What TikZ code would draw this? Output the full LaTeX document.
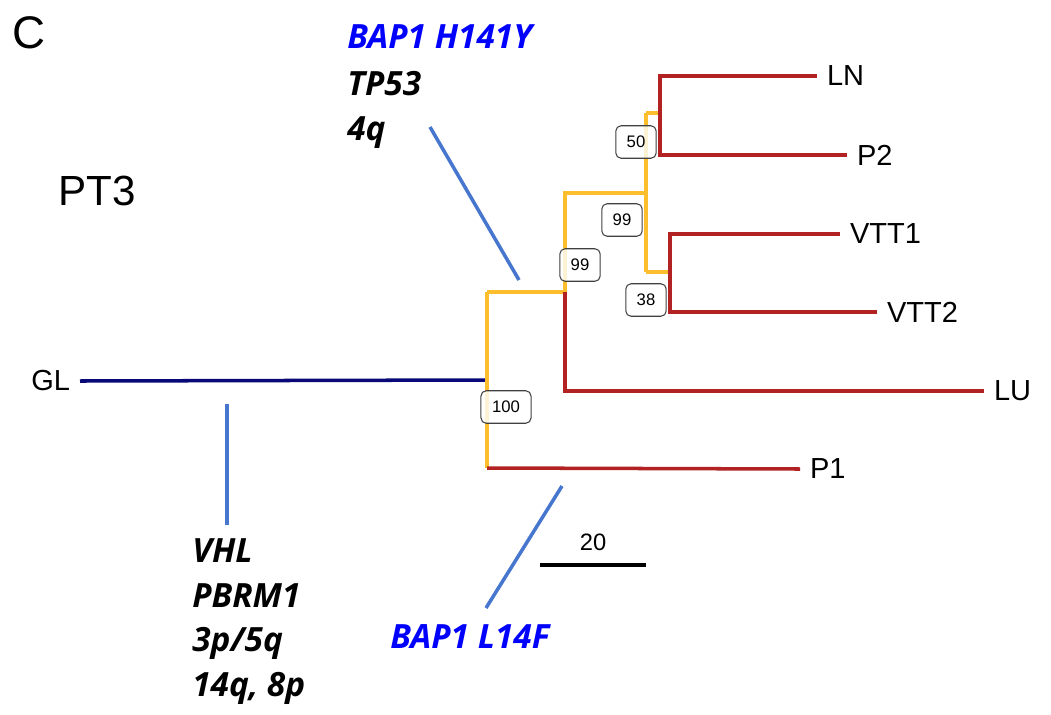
\documentclass[tikz,border=0pt]{standalone}
\usepackage{fontspec}
\setmainfont{Liberation Sans}
\newfontfamily\genefont{Open Sans}
\usepackage{tikz}
\usetikzlibrary{positioning}
\definecolor{trunkblue}{RGB}{8,8,120}
\definecolor{sharedgold}{RGB}{252,190,45}
\definecolor{privatered}{RGB}{178,34,34}
\definecolor{eventblue}{RGB}{70,118,205}
\definecolor{driverblue}{RGB}{0,0,255}
\tikzset{
    trunk branch/.style={draw=trunkblue, line width=2pt},
    shared branch/.style={draw=sharedgold, line width=2pt},
    private branch/.style={draw=privatered, line width=2pt},
    event line/.style={draw=eventblue, line width=2pt},
    scale bar/.style={draw=black, line width=2pt},
    leaf/.style={anchor=west, inner xsep=5.5pt, inner ysep=0pt,
        font=\fontsize{16.5}{19}\selectfont},
    boot/.style={draw=black!75, rounded corners=3pt, fill=white,
        fill opacity=0.8, text opacity=1, line width=0.6pt,
        minimum width=23pt, minimum height=18.5pt, inner sep=1pt,
        font=\fontsize{9.5}{11}\selectfont},
    gene/.style={anchor=base west, inner sep=0pt,
        font=\genefont\bfseries\itshape\fontsize{19}{22}\selectfont},
}

\begin{document}
\begin{tikzpicture}[x=0.02cm, y=-0.02cm]
  \useasboundingbox (0,0) rectangle (1051,714);
  \node[anchor=base west, inner sep=0pt, font=\fontsize{26}{30}\selectfont] (panel) at (12,48) {C};
  \node[anchor=base west, inner sep=0pt, font=\fontsize{24}{28}\selectfont] (patient) at (58,205) {PT3};
  % junctions of the tree
  \coordinate (root) at (487,380);
  \coordinate (rtop) at (487,292);
  \coordinate (rbot) at (487,468);
  \coordinate (ca) at (565,292);
  \coordinate (catop) at (565,193);
  \coordinate (cb) at (646,193);
  \coordinate (cbtop) at (646,113);
  \coordinate (cbbot) at (646,272);
  \coordinate (cc) at (660,113);
  \coordinate (cd) at (670,272);
  % samples
  \node[leaf, anchor=east] (GL) at (80,381) {GL};
  \node[leaf] (LN) at (817,76) {LN};
  \node[leaf] (P2) at (847,155) {P2};
  \node[leaf] (VTT1) at (840,234) {VTT1};
  \node[leaf] (VTT2) at (877,312) {VTT2};
  \node[leaf] (LU) at (984,391) {LU};
  \node[leaf] (P1) at (800,469) {P1};
  \draw[trunk branch] (GL.east) -- (root);
  \draw[shared branch] (rtop) -- (rbot);
  \draw[shared branch] (rtop) -- (ca) -- (catop) -- (cb);
  \draw[shared branch] (cbtop) -- (cbbot);
  \draw[shared branch] (cbtop) -- (cc);
  \draw[shared branch] (cbbot) -- (cd);
  \draw[private branch] (LN.west) -| (cc) |- (P2.west);
  \draw[private branch] (VTT1.west) -| (cd) |- (VTT2.west);
  \draw[private branch] (ca) |- (LU.west);
  \draw[private branch] (rbot) -- (P1.west);
  % bootstrap values
  \node[boot] (bs50) at (636,142) {50};
  \node[boot] (bs99a) at (622,220) {99};
  \node[boot] (bs99b) at (580,265) {99};
  \node[boot] (bs38) at (646,300) {38};
  \node[boot, minimum width=28.5pt] (bs100) at (506,407) {100};
  % mutations on the branches
  \node[gene, text=driverblue] (bapH) at (347,48) {BAP1 H141Y};
  \node[gene] (tp53) at (347,95) {TP53};
  \node[gene] (chr4q) at (347,140) {4q};
  \node[gene] (vhl) at (192,562) {VHL};
  \node[gene] (pbrm1) at (192,607) {PBRM1};
  \node[gene] (chr3p) at (192,651) {3p/5q};
  \node[gene] (chr14q) at (192,696) {14q, 8p};
  \node[gene, text=driverblue] (bapL) at (390,648) {BAP1 L14F};
  \coordinate (evTrunkA) at (227,404);
  \coordinate (evTrunkB) at (227,525);
  \coordinate (evSharedA) at (430,127);
  \coordinate (evSharedB) at (519,280);
  \coordinate (evPA) at (562,486);
  \coordinate (evPB) at (486,608);
  \draw[event line] (evTrunkA) -- (evTrunkB);
  \draw[event line] (evSharedA) -- (evSharedB);
  \draw[event line] (evPA) -- (evPB);
  % scale
  \coordinate (scaleL) at (540,565);
  \coordinate (scaleR) at (646,565);
  \draw[scale bar] (scaleL) -- (scaleR);
  \node[anchor=base, inner sep=0pt, font=\fontsize{13.5}{16}\selectfont] (scaleval) at (593,550) {20};
\end{tikzpicture}
\end{document}
